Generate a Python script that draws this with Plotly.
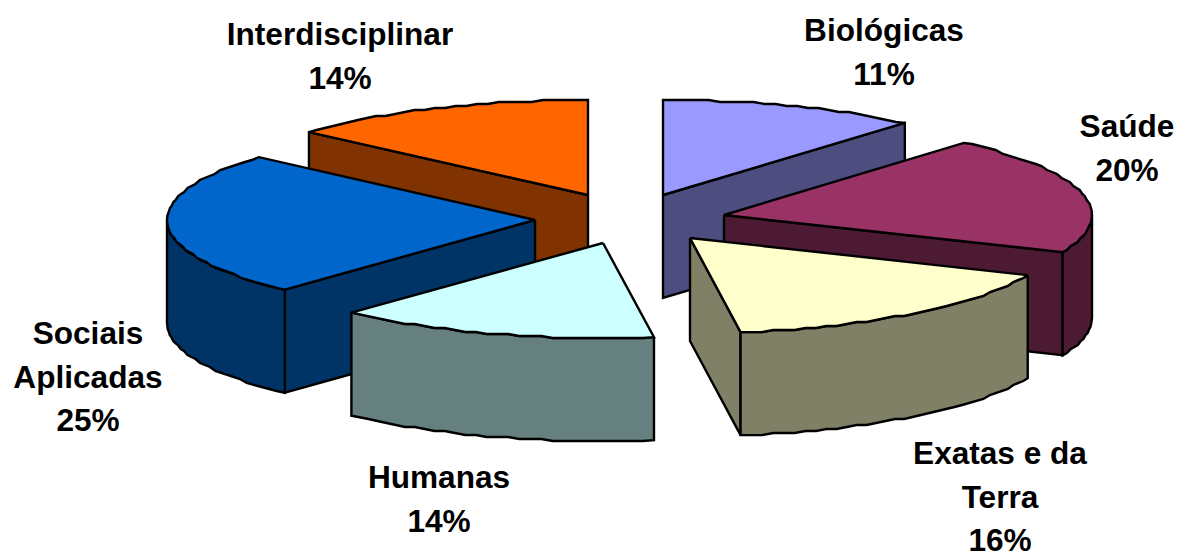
import math
import plotly.graph_objects as go

# --- data ---
categories = ["Biológicas", "Saúde", "Exatas e da Terra", "Humanas", "Sociais Aplicadas", "Interdisciplinar"]
shares = [11.3, 20.1, 16.4, 14.1, 24.6, 13.5]

# --- styles ---
top_colors = ["#9999FF", "#993366", "#FFFFCC", "#CCFFFF", "#0066CC", "#FF6600"]
side_colors = ["#4D4D80", "#4D1A33", "#808066", "#668080", "#003366", "#803300"]

# --- 3D projection layout (axis units = pixels) ---
apex_x = [663, 724, 690, 603, 535, 588]
apex_y = [195, 215, 238, 243, 220, 195]
radius_x = [371, 368, 367, 370, 368, 372]
radius_y = 95
depth = 103
draw_order = [0, 5, 4, 1, 3, 2]
label_lines = [["Biológicas"], ["Saúde"], ["Exatas e da", "Terra"], ["Humanas"], ["Sociais", "Aplicadas"], ["Interdisciplinar"]]
label_x = [884, 1127, 1000, 439, 88, 340]
label_y = [33, 129, 456, 480, 336, 37]
line_gap = 43.7
font_size = 31.6
line_w = 2.4
grid = 2


def rim(i, a, b):
    n = max(2, int(abs(b - a) / 1.7))
    pts = []
    for k in range(n + 1):
        t = math.radians(a + (b - a) * k / n)
        x = apex_x[i] + radius_x[i] * math.sin(t)
        y = apex_y[i] - radius_y * math.cos(t)
        if 0 < k < n:
            y = round(y / grid) * grid
        pts.append((x, y))
    return pts


def face(pts, color):
    xs = [p[0] for p in pts] + [p[0] for p in reversed(pts)] + [pts[0][0]]
    ys = [p[1] for p in pts] + [p[1] + depth for p in reversed(pts)] + [pts[0][1]]
    return go.Scatter(x=xs, y=ys, mode="lines", fill="toself", fillcolor=color,
                      line=dict(color="black", width=line_w), hoverinfo="skip", showlegend=False)


fig = go.Figure()
starts = []
acc = 0.0
for s in shares:
    starts.append(acc)
    acc += s

for i in draw_order:
    a = starts[i] * 3.6
    b = (starts[i] + shares[i]) * 3.6
    apex = (apex_x[i], apex_y[i])
    if math.sin(math.radians(a)) < -1e-6:
        fig.add_trace(face([apex, rim(i, a, a)[0]], side_colors[i]))
    if math.sin(math.radians(b)) > 1e-6:
        fig.add_trace(face([apex, rim(i, b, b)[0]], side_colors[i]))
    lo, hi = max(a, 90), min(b, 270)
    if lo < hi:
        fig.add_trace(face(rim(i, lo, hi), side_colors[i]))
    pts = [apex] + rim(i, a, b) + [apex]
    fig.add_trace(go.Scatter(x=[p[0] for p in pts], y=[p[1] for p in pts], mode="lines", fill="toself",
                             fillcolor=top_colors[i], line=dict(color="black", width=line_w),
                             hoverinfo="skip", showlegend=False))

tx, ty, tt = [], [], []
for i, lines in enumerate(label_lines):
    for j, text in enumerate(lines + [f"{round(shares[i])}%"]):
        tx.append(label_x[i])
        ty.append(label_y[i] + j * line_gap)
        tt.append(text)
fig.add_trace(go.Scatter(x=tx, y=ty, text=tt, mode="text", textposition="middle center", cliponaxis=False,
                         textfont=dict(family="Liberation Sans", size=font_size, color="black", weight="bold"),
                         hoverinfo="skip", showlegend=False))

fig.update_layout(
    width=1180, height=557, margin=dict(l=0, r=0, t=0, b=0),
    paper_bgcolor="white", plot_bgcolor="white", showlegend=False,
    xaxis=dict(range=[0, 1180], visible=False, fixedrange=True),
    yaxis=dict(range=[557, 0], visible=False, fixedrange=True),
)
fig.write_html("out.html", config={"displayModeBar": False},
               post_script="document.body.style.margin='0';document.body.style.overflow='hidden';")
